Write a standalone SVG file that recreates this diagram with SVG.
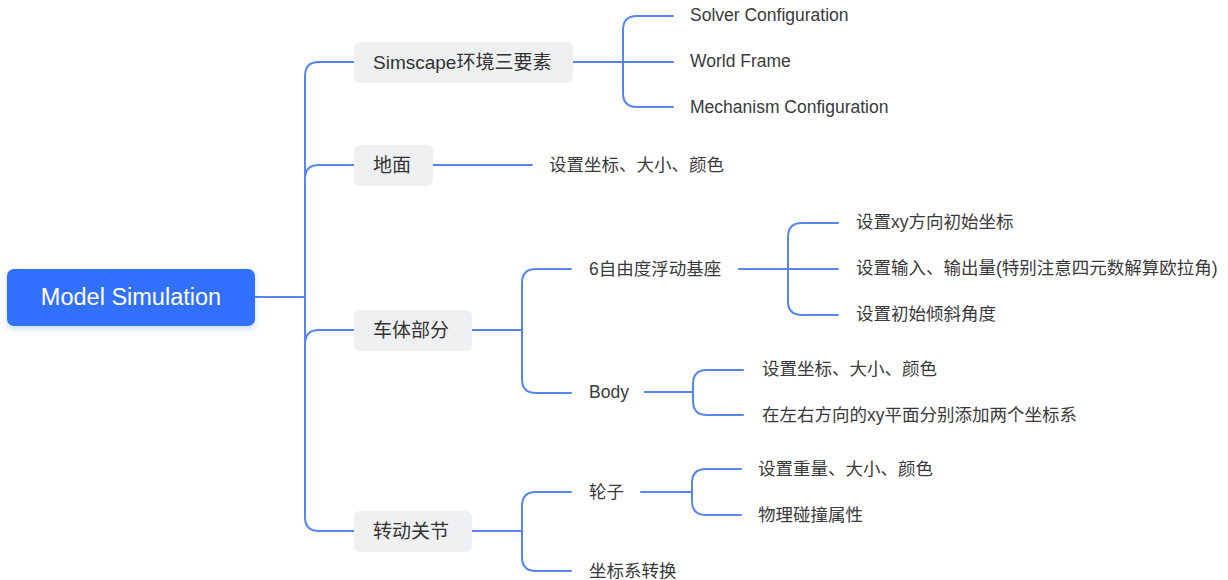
<svg xmlns="http://www.w3.org/2000/svg" width="1228" height="580" viewBox="0 0 1228 580">
<style>
.ln{fill:none;stroke:#5585f8;stroke-width:2;stroke-linecap:round}
.n1{fill:#eff0f2}
.t1{font-family:"Liberation Sans","Noto Sans CJK SC",sans-serif;font-size:19px;fill:#333}
.t2{font-family:"Liberation Sans","Noto Sans CJK SC",sans-serif;font-size:17.5px;fill:#3a3a3a}
.tr{font-family:"Liberation Sans","Noto Sans CJK SC",sans-serif;font-size:23.5px;fill:#fff}
</style>
<defs>
<filter id="sh" x="-10%" y="-30%" width="120%" height="170%">
<feDropShadow dx="0" dy="3" stdDeviation="3" flood-color="#3370ff" flood-opacity="0.25"/>
</filter>
</defs>
<g id="connectors">
<path class="ln" d="M255 297 H305"/>
<path class="ln" d="M354 62 H319 Q305 62 305 76 V517 Q305 531 319 531 H354"/>
<path class="ln" d="M305 179 Q305 165 319 165 H354"/>
<path class="ln" d="M305 344 Q305 330 319 330 H354"/>
<path class="ln" d="M573 62 H673"/>
<path class="ln" d="M673 16 H637 Q623 16 623 30 V93 Q623 107 637 107 H673"/>
<path class="ln" d="M433 165 H532"/>
<path class="ln" d="M472 330 H522"/>
<path class="ln" d="M571 269 H536 Q522 269 522 283 V379 Q522 393 536 393 H571"/>
<path class="ln" d="M739 269 H838"/>
<path class="ln" d="M838 223 H802 Q788 223 788 237 V301 Q788 315 802 315 H838"/>
<path class="ln" d="M645 392 H693"/>
<path class="ln" d="M743 370 H707 Q693 370 693 384 V401 Q693 415 707 415 H743"/>
<path class="ln" d="M472 531 H522"/>
<path class="ln" d="M571 492 H536 Q522 492 522 506 V557 Q522 571 536 571 H571"/>
<path class="ln" d="M641 492 H692"/>
<path class="ln" d="M741 469 H706 Q692 469 692 483 V501 Q692 515 706 515 H741"/>
</g>
<g id="root">
<rect x="7" y="269" width="248" height="57" rx="7" fill="#3370ff" filter="url(#sh)"/>
<text class="tr" x="131" y="305" text-anchor="middle">Model Simulation</text>
</g>
<g id="simscape">
<rect class="n1" x="354" y="42" width="219" height="41" rx="6"/>
<text class="t1" x="373" y="69">Simscape环境三要素</text>
</g>
<g id="solver"><text class="t2" x="690" y="21">Solver Configuration</text></g>
<g id="world"><text class="t2" x="690" y="67">World Frame</text></g>
<g id="mechanism"><text class="t2" x="690" y="113">Mechanism Configuration</text></g>
<g id="ground">
<rect class="n1" x="354" y="145" width="79" height="41" rx="6"/>
<text class="t1" x="373" y="172">地面</text>
</g>
<g id="ground-attr"><text class="t2" x="549" y="171">设置坐标、大小、颜色</text></g>
<g id="body-part">
<rect class="n1" x="354" y="310" width="118" height="41" rx="6"/>
<text class="t1" x="373" y="337">车体部分</text>
</g>
<g id="base6dof"><text class="t2" x="589" y="275">6自由度浮动基座</text></g>
<g id="xy-init"><text class="t2" x="856" y="228">设置xy方向初始坐标</text></g>
<g id="io"><text class="t2" x="856" y="274">设置输入、输出量(特别注意四元数解算欧拉角)</text></g>
<g id="tilt"><text class="t2" x="856" y="320">设置初始倾斜角度</text></g>
<g id="body"><text class="t2" x="589" y="398">Body</text></g>
<g id="body-attr"><text class="t2" x="762" y="375">设置坐标、大小、颜色</text></g>
<g id="body-frames"><text class="t2" x="762" y="421">在左右方向的xy平面分别添加两个坐标系</text></g>
<g id="joint">
<rect class="n1" x="354" y="511" width="118" height="41" rx="6"/>
<text class="t1" x="373" y="538">转动关节</text>
</g>
<g id="wheel"><text class="t2" x="589" y="498">轮子</text></g>
<g id="wheel-attr"><text class="t2" x="758" y="475">设置重量、大小、颜色</text></g>
<g id="wheel-phys"><text class="t2" x="758" y="521">物理碰撞属性</text></g>
<g id="coord"><text class="t2" x="589" y="577">坐标系转换</text></g>
</svg>
